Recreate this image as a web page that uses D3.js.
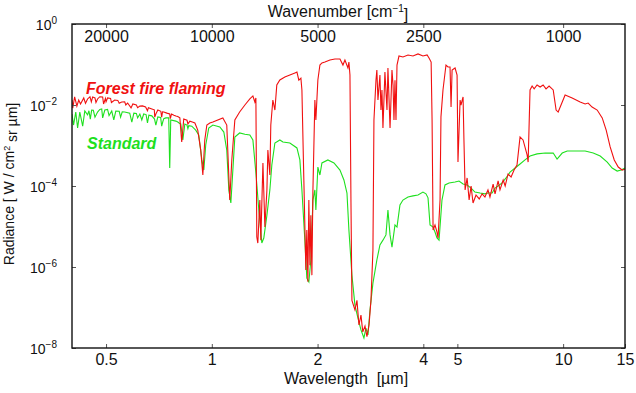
<!DOCTYPE html>
<html>
<head>
<meta charset="utf-8">
<script src="https://cdn.jsdelivr.net/npm/d3@7"></script>
<style>
  body { margin: 0; background: #fff; }
  text { font-family: "Liberation Sans", Arial, sans-serif; }
</style>
</head>
<body>
<svg id="chart" width="636" height="393"></svg>
<script>
// tick values
const wavelengthTicks = [0.5, 1, 2, 4, 5, 10, 15];
const wavenumberTicks = [20000, 10000, 5000, 2500, 1000];
const radianceTicks = [1, 1e-2, 1e-4, 1e-6, 1e-8];

// [wavelength um, radiance W/cm2 sr um]
const fireSpectrum = [
  [0.400, 1.33e-2], [0.402, 8.4e-3], [0.407, 1.58e-2], [0.413, 9.4e-3], [0.418, 1.33e-2],
  [0.423, 1.06e-2], [0.432, 1.49e-2], [0.437, 1.1e-2], [0.443, 1.41e-2], [0.450, 1.6e-2],
  [0.454, 1.2e-2], [0.458, 1.58e-2], [0.465, 1.5e-2], [0.468, 1.15e-2], [0.473, 1.41e-2],
  [0.480, 1.6e-2], [0.489, 1.58e-2], [0.492, 1.06e-2], [0.498, 1.45e-2], [0.500, 1.2e-2],
  [0.505, 1.49e-2], [0.515, 1.45e-2], [0.518, 1.15e-2], [0.529, 1.33e-2], [0.540, 1.3e-2],
  [0.545, 1.1e-2], [0.554, 1.19e-2], [0.565, 1.2e-2], [0.569, 1.0e-2], [0.576, 1.12e-2],
  [0.589, 8.5e-3], [0.596, 1.06e-2], [0.610, 1.0e-2], [0.615, 8.6e-3], [0.624, 9.4e-3],
  [0.635, 9.5e-3], [0.648, 8.9e-3], [0.656, 7.2e-3], [0.660, 8.6e-3], [0.675, 8.0e-3],
  [0.686, 7.6e-3], [0.688, 5.0e-3], [0.693, 6.0e-3], [0.702, 7.5e-3], [0.716, 7.0e-3],
  [0.720, 5.0e-3], [0.724, 6.8e-3], [0.730, 6.7e-3], [0.745, 6.3e-3], [0.759, 6.0e-3],
  [0.762, 4.6e-3], [0.768, 6.0e-3], [0.780, 5.6e-3], [0.790, 5.35e-3], [0.800, 5.2e-3],
  [0.811, 4.8e-3], [0.821, 1.22e-3], [0.832, 4.5e-3], [0.850, 4.2e-3], [0.855, 3.4e-3],
  [0.866, 4.0e-3], [0.880, 3.8e-3], [0.895, 3.6e-3],
  [0.912, 2.4e-3], [0.930, 7.7e-4], [0.943, 1.87e-4], [0.955, 1.37e-3], [0.968, 3.2e-3],
  [0.987, 3.6e-3], [1.007, 3.8e-3], [1.075, 4.8e-3], [1.103, 3.2e-3], [1.125, 4.5e-5],
  [1.140, 4.4e-4], [1.163, 4.3e-3], [1.200, 6.7e-3], [1.242, 1.0e-2], [1.283, 1.41e-2],
  [1.309, 1.67e-2], [1.326, 1.19e-2], [1.335, 1.49e-2], [1.343, 5.5e-6], [1.352, 3.9e-6],
  [1.370, 4.5e-5], [1.379, 4.6e-6], [1.398, 3.7e-4], [1.416, 9.7e-6], [1.435, 8.0e-5],
  [1.444, 7.7e-4], [1.463, 1.87e-4], [1.472, 3.2e-3], [1.492, 1.33e-2], [1.512, 7.5e-3],
  [1.531, 3.12e-2], [1.562, 4.14e-2], [1.614, 4.9e-2], [1.668, 5.5e-2], [1.724, 6.2e-2],
  [1.747, 6.5e-2], [1.769, 4.1e-2], [1.793, 4.6e-2], [1.805, 2.35e-2], [1.828, 1.41e-4],
  [1.852, 8.4e-7], [1.864, 8.2e-6], [1.877, 4.3e-7], [1.889, 4.5e-5], [1.902, 1.1e-6],
  [1.914, 1.9e-5], [1.927, 6.3e-7], [1.940, 8.0e-5], [1.965, 1.33e-2], [1.978, 4.27e-3],
  [2.004, 4.14e-2], [2.031, 9.7e-2], [2.058, 1.09e-1], [2.099, 1.15e-1], [2.169, 1.29e-1],
  [2.241, 1.37e-1], [2.316, 1.37e-1], [2.362, 9.7e-2], [2.393, 1.29e-1], [2.440, 8.2e-2],
  [2.456, 1.15e-1], [2.473, 5.5e-2], [2.489, 4.5e-5], [2.505, 1.5e-7], [2.555, 8.7e-8],
  [2.589, 1.5e-7], [2.623, 3.7e-8], [2.658, 6.5e-8], [2.690, 2.5e-8], [2.729, 3.5e-8],
  [2.764, 1.9e-8], [2.802, 3.7e-8], [2.838, 1.5e-7], [2.875, 2.6e-6], [2.894, 4.27e-3],
  [2.933, 4.14e-2], [2.950, 7.3e-2], [2.971, 1.33e-2], [3.010, 5.5e-2], [3.030, 7.5e-3],
  [3.050, 2.35e-2], [3.070, 2.7e-3], [3.110, 6.5e-2], [3.152, 7.5e-3], [3.172, 8.2e-2],
  [3.216, 2.7e-3], [3.257, 7.3e-2], [3.280, 3.1e-2], [3.300, 4.27e-3], [3.322, 4.1e-2],
  [3.344, 4.27e-3], [3.366, 9.7e-2], [3.410, 1.62e-1], [3.500, 1.53e-1], [3.618, 1.72e-1],
  [3.738, 1.62e-1], [3.863, 1.82e-1], [3.990, 1.62e-1], [4.100, 1.72e-1], [4.152, 1.45e-1],
  [4.210, 1.15e-1], [4.236, 4.27e-3], [4.264, 8.2e-6], [4.318, 1.09e-5], [4.375, 7.3e-6],
  [4.405, 5.2e-6], [4.463, 4.5e-5], [4.490, 5.1e-3], [4.550, 2.35e-2], [4.640, 9.7e-2],
  [4.703, 8.7e-2], [4.765, 8.7e-2], [4.797, 8.9e-3], [4.830, 7.3e-2], [4.925, 8.2e-2],
  [4.990, 5.5e-2], [5.020, 3.9e-4], [5.090, 1.33e-2], [5.120, 1.0e-2], [5.190, 1.58e-2],
  [5.220, 1.37e-3], [5.260, 8.0e-5], [5.330, 1.58e-4], [5.400, 4.5e-5], [5.470, 1.0e-4],
  [5.540, 3.8e-5], [5.650, 6.0e-5], [5.770, 4.8e-5], [5.880, 6.4e-5], [5.990, 5.35e-5],
  [6.110, 8.0e-5], [6.190, 5.35e-5], [6.320, 1.12e-4], [6.400, 6.4e-5], [6.530, 1.33e-4],
  [6.610, 8.0e-5], [6.750, 1.41e-4], [6.840, 1.0e-4], [6.970, 1.98e-4], [7.110, 1.67e-4],
  [7.250, 2.48e-4], [7.390, 3.3e-4], [7.540, 1.62e-3], [7.690, 1.37e-3], [7.900, 5.8e-4],
  [7.950, 3.9e-4], [8.050, 2.35e-2], [8.160, 2.94e-2], [8.270, 2.5e-2], [8.430, 3.12e-2],
  [8.600, 2.78e-2], [8.770, 3.12e-2], [8.940, 2.5e-2], [9.120, 2.94e-2], [9.370, 2.35e-2],
  [9.550, 7.5e-3], [9.680, 6.7e-3], [10.13, 1.77e-2], [10.61, 1.49e-2], [11.18, 1.19e-2],
  [11.55, 1.06e-2], [11.78, 1.12e-2], [12.09, 8.9e-3], [12.50, 7.5e-3], [12.92, 4.8e-3],
  [13.26, 2.4e-3], [13.61, 9.2e-4], [13.98, 4.4e-4], [14.35, 2.94e-4], [14.72, 2.48e-4],
  [15.00, 2.6e-4]
];

const standardSpectrum = [
  [0.400, 6.0e-3], [0.404, 3.2e-3], [0.410, 6.7e-3], [0.415, 2.7e-3], [0.421, 6.7e-3],
  [0.429, 3.0e-3], [0.435, 7.1e-3], [0.443, 5.7e-3], [0.447, 7.2e-3], [0.451, 4.5e-3],
  [0.455, 7.5e-3], [0.460, 7.4e-3], [0.465, 5.0e-3], [0.473, 6.7e-3], [0.480, 7.8e-3],
  [0.486, 8.0e-3], [0.489, 4.8e-3], [0.496, 7.5e-3], [0.505, 7.8e-3], [0.510, 5.5e-3],
  [0.519, 7.1e-3], [0.526, 4.27e-3], [0.533, 7.1e-3], [0.545, 7.0e-3], [0.550, 5.0e-3],
  [0.556, 6.8e-3], [0.565, 6.7e-3], [0.584, 6.3e-3], [0.592, 3.8e-3], [0.600, 6.3e-3],
  [0.610, 6.2e-3], [0.615, 4.8e-3], [0.624, 6.0e-3], [0.632, 4.27e-3], [0.640, 6.0e-3],
  [0.650, 5.8e-3], [0.656, 3.6e-3], [0.662, 5.6e-3], [0.675, 5.4e-3], [0.687, 4.5e-3],
  [0.693, 3.2e-3], [0.702, 5.1e-3], [0.715, 4.9e-3], [0.720, 3.0e-3], [0.725, 3.8e-3],
  [0.730, 4.6e-3], [0.740, 4.8e-3], [0.754, 4.8e-3], [0.759, 2.78e-4], [0.764, 4.27e-3],
  [0.790, 4.0e-3], [0.800, 3.8e-3], [0.810, 3.5e-3], [0.816, 3.4e-3], [0.827, 1.37e-3],
  [0.838, 3.4e-3], [0.850, 3.2e-3], [0.855, 2.6e-3], [0.860, 3.1e-3],
  [0.877, 3.0e-3], [0.900, 2.4e-3], [0.918, 1.82e-3], [0.937, 4.4e-4], [0.949, 2.48e-4],
  [0.961, 1.03e-3], [0.980, 2.7e-3], [1.007, 3.2e-3], [1.054, 2.86e-3], [1.082, 2.15e-3],
  [1.103, 7.7e-4], [1.118, 8.0e-5], [1.133, 3.8e-5], [1.148, 2.48e-4], [1.163, 1.62e-3],
  [1.200, 2.04e-3], [1.242, 1.9e-3], [1.283, 1.82e-3], [1.309, 1.37e-3], [1.335, 2.1e-4],
  [1.361, 2.55e-5], [1.388, 3.9e-6], [1.406, 5.2e-6], [1.435, 1.9e-5], [1.463, 8.0e-5],
  [1.482, 3.3e-4], [1.512, 1.15e-3], [1.562, 1.37e-3], [1.594, 1.22e-3], [1.668, 1.15e-3],
  [1.747, 8.7e-4], [1.781, 4.4e-4], [1.805, 8.0e-5], [1.840, 4.6e-6], [1.864, 5.3e-7],
  [1.889, 4.3e-7], [1.914, 1.49e-6], [1.940, 4.5e-5], [1.965, 8.0e-5], [1.978, 2.55e-5],
  [2.004, 2.94e-4], [2.031, 1.87e-4], [2.058, 3.7e-4], [2.140, 4.4e-4], [2.227, 3.7e-4],
  [2.316, 2.48e-4], [2.377, 1.41e-4], [2.425, 6.7e-5], [2.456, 8.2e-6], [2.505, 6.3e-7],
  [2.555, 1.15e-7], [2.606, 5.5e-8], [2.658, 2.8e-8], [2.710, 1.77e-8], [2.746, 3.1e-8],
  [2.783, 2.1e-8], [2.820, 8.7e-8], [2.875, 4.0e-7], [2.950, 1.49e-6], [3.010, 3.5e-6],
  [3.070, 4.6e-6], [3.131, 6.2e-6], [3.172, 2.55e-5], [3.216, 6.2e-6], [3.257, 3.1e-6],
  [3.322, 1.09e-5], [3.366, 9.7e-6], [3.432, 3.4e-5], [3.500, 4.5e-5], [3.618, 5.35e-5],
  [3.738, 5.7e-5], [3.863, 6.0e-5], [3.990, 7.1e-5], [4.070, 6.4e-5], [4.125, 5.1e-5],
  [4.180, 1.09e-5], [4.264, 9.7e-6], [4.318, 7.3e-6], [4.375, 5.2e-6], [4.434, 4.6e-6],
  [4.520, 4.5e-5], [4.610, 1.06e-4], [4.734, 1.19e-4], [4.925, 1.26e-4], [5.054, 1.33e-4],
  [5.190, 1.12e-4], [5.330, 1.06e-4], [5.470, 8.9e-5], [5.610, 7.1e-5], [5.800, 6.7e-5],
  [5.990, 6.4e-5], [6.110, 6.7e-5], [6.280, 6.7e-5], [6.400, 8.9e-5], [6.530, 1.0e-4],
  [6.700, 1.19e-4], [6.880, 1.58e-4], [7.060, 2.2e-4], [7.300, 2.78e-4], [7.540, 3.5e-4],
  [7.790, 4.4e-4], [8.050, 5.5e-4], [8.430, 6.2e-4], [8.890, 6.5e-4], [9.370, 6.5e-4],
  [9.610, 4.6e-4], [9.940, 6.5e-4], [10.27, 7.3e-4], [10.82, 7.3e-4], [11.55, 7.3e-4],
  [12.18, 6.5e-4], [12.75, 5.5e-4], [13.35, 3.9e-4], [13.79, 2.78e-4], [14.25, 2.34e-4],
  [14.63, 2.48e-4], [15.00, 2.78e-4]
];

const seriesNames = ["Forest fire flaming", "Standard"];

const svg = d3.select("#chart");
const margin = {top: 24, right: 11, bottom: 45, left: 72};
const W = 636, H = 393;
const x0 = margin.left, x1 = W - margin.right, y0 = margin.top, y1 = H - margin.bottom;

const x = d3.scaleLog().domain([0.4, 15]).range([x0, x1]);
const xTop = d3.scaleLog().domain([1e4 / 0.4, 1e4 / 15]).range([x0, x1]);
const y = d3.scaleLog().domain([1e-8, 1]).range([y1, y0]);

svg.append("clipPath").attr("id", "plot")
  .append("rect").attr("x", x0).attr("y", y0).attr("width", x1 - x0).attr("height", y1 - y0);

const line = d3.line().x(d => x(d[0])).y(d => y(d[1]));

svg.append("path").datum(standardSpectrum)
  .attr("clip-path", "url(#plot)")
  .attr("fill", "none").attr("stroke", "#1ee01e").attr("stroke-width", 1.1)
  .attr("d", line);

svg.append("path").datum(fireSpectrum)
  .attr("clip-path", "url(#plot)")
  .attr("fill", "none").attr("stroke", "#f01010").attr("stroke-width", 1.1)
  .attr("d", line);

function styleAxis(g, size) {
  g.select(".domain").remove();
  g.selectAll(".tick line").attr("stroke", "#555");
  g.selectAll(".tick text").attr("font-family", "Liberation Sans, Arial, sans-serif")
    .attr("font-size", size).attr("fill", "#111");
}

// bottom axis (wavelength)
svg.append("g").attr("transform", `translate(0,${y1})`)
  .call(d3.axisBottom(x).tickValues(wavelengthTicks).tickFormat(d3.format("")).tickSize(-4).tickPadding(6))
  .call(styleAxis, 16);

// top axis (wavenumber), labels sit inside the frame
svg.append("g").attr("transform", `translate(0,${y0})`)
  .call(d3.axisBottom(xTop).tickValues(wavenumberTicks).tickFormat(d3.format("d")).tickSize(4).tickPadding(3))
  .call(styleAxis, 16);

// left axis with 10^n labels
svg.append("g").attr("transform", `translate(${x0},0)`)
  .call(d3.axisLeft(y).tickValues(radianceTicks).tickSize(-4).tickPadding(15))
  .call(styleAxis, 14)
  .selectAll(".tick text")
  .each(function (d) {
    const e = Math.round(Math.log10(d));
    const t = d3.select(this).text("10").attr("dy", "0.4em");
    t.append("tspan").attr("dy", "-0.62em").attr("font-size", 10)
      .text(e === 0 ? "0" : "\u2212" + (-e));
  });

// right axis ticks only
svg.append("g").attr("transform", `translate(${x1},0)`)
  .call(d3.axisRight(y).tickValues(radianceTicks).tickSize(-4).tickFormat(""))
  .call(styleAxis, 14);

// frame
svg.append("rect").attr("x", x0).attr("y", y0).attr("width", x1 - x0).attr("height", y1 - y0)
  .attr("fill", "none").attr("stroke", "#111").attr("stroke-width", 1.4);

// axis titles
const topTitle = svg.append("text").attr("x", 338).attr("y", 17)
  .attr("text-anchor", "middle").attr("font-size", 16).attr("fill", "#111")
  .text("Wavenumber [cm");
topTitle.append("tspan").attr("dy", "-0.5em").attr("font-size", 10).text("\u22121");
topTitle.append("tspan").attr("dy", "0.5em").text("]");

svg.append("text").attr("x", 346).attr("y", 384)
  .attr("text-anchor", "middle").attr("font-size", 16).attr("fill", "#111")
  .attr("xml:space", "preserve")
  .text("Wavelength  [\u00b5m]");

const yTitle = svg.append("text")
  .attr("transform", "translate(14,184) rotate(-90)")
  .attr("text-anchor", "middle").attr("font-size", 14).attr("fill", "#111")
  .text("Radiance [ W / cm");
yTitle.append("tspan").attr("dy", "-0.5em").attr("font-size", 9).text("2");
yTitle.append("tspan").attr("dy", "0.5em").text(" sr \u00b5m]");

// series labels
svg.append("text").attr("x", 86).attr("y", 94)
  .attr("font-size", 16).attr("font-weight", "bold").attr("font-style", "italic")
  .attr("fill", "#f01010").text(seriesNames[0]);
svg.append("text").attr("x", 87).attr("y", 149)
  .attr("font-size", 16).attr("font-weight", "bold").attr("font-style", "italic")
  .attr("fill", "#1ee01e").text(seriesNames[1]);
</script>
</body>
</html>
